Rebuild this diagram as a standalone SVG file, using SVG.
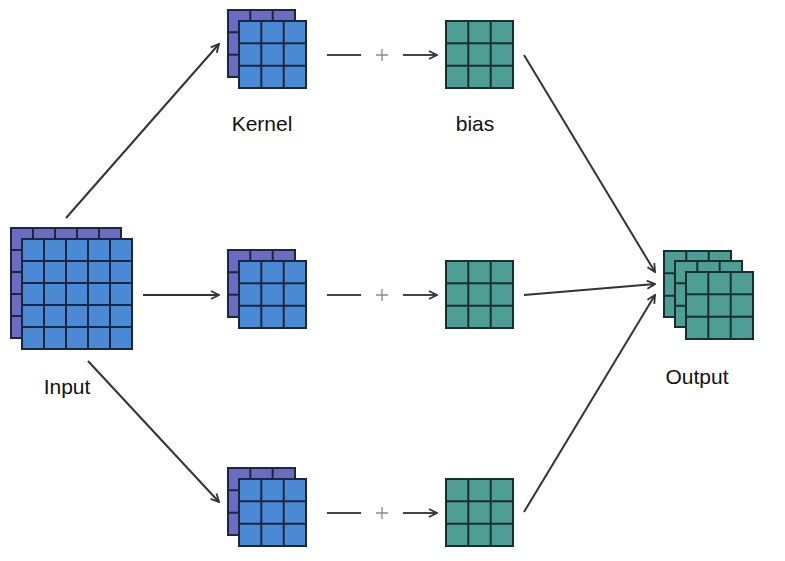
<svg xmlns="http://www.w3.org/2000/svg" xmlns:xlink="http://www.w3.org/1999/xlink" width="785" height="561" viewBox="0 0 785 561">
<style>
.p{fill:#6b6bc2;stroke:#1b2740;stroke-width:2}
.b{fill:#4a8ad5;stroke:#1b2740;stroke-width:2}
.t{fill:#4f9e96;stroke:#17302e;stroke-width:2}
.gl{fill:none;stroke:#1b2740;stroke-width:2}
.gt{fill:none;stroke:#17302e;stroke-width:2}
.c{fill:none;stroke:#333;stroke-width:2}
.d{fill:none;stroke:#444;stroke-width:2}
.plus{fill:none;stroke:#888;stroke-width:1.3}
text{font-family:"Liberation Sans",Arial,sans-serif;font-size:21px;fill:#111;text-anchor:middle}
</style>
<defs>
<marker id="ah" viewBox="0 0 10 10" refX="9" refY="5" markerWidth="10" markerHeight="10" markerUnits="userSpaceOnUse" orient="auto">
<path d="M1 1L9 5L1 9" fill="none" stroke="#333" stroke-width="1.8"/>
</marker>
<path id="g3" d="M22.3 0V67M44.7 0V67M0 22.3H67M0 44.7H67"/>
<path id="g5" d="M22 0V110M44 0V110M66 0V110M88 0V110M0 22H110M0 44H110M0 66H110M0 88H110"/>
</defs>
<rect width="785" height="561" fill="#fff"/>
<g id="input">
<rect class="p" x="11" y="228" width="110" height="110"/>
<use xlink:href="#g5" class="gl" x="11" y="228"/>
<rect class="b" x="22" y="239" width="110" height="110"/>
<use xlink:href="#g5" class="gl" x="22" y="239"/>
<text x="67" y="394">Input</text>
</g>
<g id="kernel1">
<rect class="p" x="228" y="10" width="67" height="67"/>
<use xlink:href="#g3" class="gl" x="228" y="10"/>
<rect class="b" x="239" y="21" width="67" height="67"/>
<use xlink:href="#g3" class="gl" x="239" y="21"/>
<text x="262" y="131">Kernel</text>
</g>
<g id="kernel2">
<rect class="p" x="228" y="250" width="67" height="67"/>
<use xlink:href="#g3" class="gl" x="228" y="250"/>
<rect class="b" x="239" y="261" width="67" height="67"/>
<use xlink:href="#g3" class="gl" x="239" y="261"/>
</g>
<g id="kernel3">
<rect class="p" x="228" y="468" width="67" height="67"/>
<use xlink:href="#g3" class="gl" x="228" y="468"/>
<rect class="b" x="239" y="479" width="67" height="67"/>
<use xlink:href="#g3" class="gl" x="239" y="479"/>
</g>
<g id="bias1">
<rect class="t" x="446" y="21" width="67" height="67"/>
<use xlink:href="#g3" class="gt" x="446" y="21"/>
<text x="475" y="131">bias</text>
</g>
<g id="bias2">
<rect class="t" x="446" y="261" width="67" height="67"/>
<use xlink:href="#g3" class="gt" x="446" y="261"/>
</g>
<g id="bias3">
<rect class="t" x="446" y="479" width="67" height="67"/>
<use xlink:href="#g3" class="gt" x="446" y="479"/>
</g>
<g id="output">
<rect class="t" x="664" y="251" width="67" height="66"/>
<use xlink:href="#g3" class="gt" x="664" y="251"/>
<rect class="t" x="675" y="261" width="67" height="66"/>
<use xlink:href="#g3" class="gt" x="675" y="261"/>
<rect class="t" x="686" y="272" width="67" height="67"/>
<use xlink:href="#g3" class="gt" x="686" y="272"/>
<text x="697" y="384">Output</text>
</g>
<g id="connectors">
<line class="c" x1="66" y1="218" x2="219" y2="44" marker-end="url(#ah)"/>
<line class="c" x1="143" y1="295" x2="219" y2="295" marker-end="url(#ah)"/>
<line class="c" x1="88" y1="361" x2="219" y2="502" marker-end="url(#ah)"/>
<line class="c" x1="524" y1="55" x2="655" y2="272" marker-end="url(#ah)"/>
<line class="c" x1="524" y1="295" x2="655" y2="284" marker-end="url(#ah)"/>
<line class="c" x1="524" y1="512" x2="655" y2="295" marker-end="url(#ah)"/>
<line class="d" x1="327" y1="55" x2="361" y2="55"/>
<path class="plus" d="M376 55H388M382 49V61"/>
<line class="d" x1="403" y1="55" x2="437" y2="55" marker-end="url(#ah)"/>
<line class="d" x1="327" y1="295" x2="361" y2="295"/>
<path class="plus" d="M376 295H388M382 289V301"/>
<line class="d" x1="403" y1="295" x2="437" y2="295" marker-end="url(#ah)"/>
<line class="d" x1="327" y1="513" x2="361" y2="513"/>
<path class="plus" d="M376 513H388M382 507V519"/>
<line class="d" x1="403" y1="513" x2="437" y2="513" marker-end="url(#ah)"/>
</g>
</svg>
